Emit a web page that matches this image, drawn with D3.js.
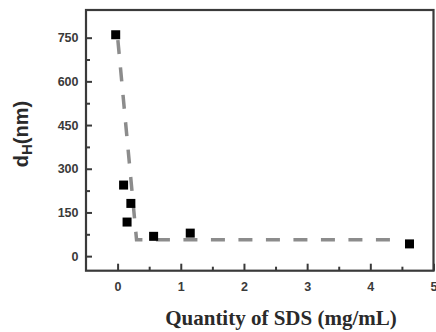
<!DOCTYPE html>
<html><head><meta charset="utf-8">
<script src="https://cdn.jsdelivr.net/npm/d3@7"></script>
<style>body{margin:0;background:#fff}svg{display:block}</style>
</head><body>
<svg id="c" width="436" height="332"></svg>
<script>
const sdsQuantity = [-0.03, 0.095, 0.21, 0.15, 0.57, 1.15, 4.62];
const diameter = [760, 244, 181, 117, 68, 79, 42];
const fitX = [0, 0.3, 4.5];
const fitY = [752, 56, 56];
const xTicks = [0, 1, 2, 3, 4, 5];
const yTicks = [0, 150, 300, 450, 600, 750];
const xMinor = [0.5, 1.5, 2.5, 3.5, 4.5];
const yMinor = [75, 225, 375, 525, 675];

const svg = d3.select("#c");
const L = 86, R = 433.5, T = 10, B = 270.7;
const x = d3.scaleLinear().domain([-0.5, 5]).range([L, R]);
const y = d3.scaleLinear().domain([-50, 845]).range([B, T]);
const axisColor = "#3a3a3a";
const labFont = "'Liberation Sans', Arial, sans-serif";

// frame
svg.append("rect").attr("x", L).attr("y", T).attr("width", R - L).attr("height", B - T)
  .attr("fill", "none").attr("stroke", axisColor).attr("stroke-width", 2.2);

// x axis
const xa = svg.append("g").attr("transform", `translate(0,${B})`)
  .call(d3.axisBottom(x).tickValues(xTicks).tickSize(-7).tickPadding(11).tickFormat(d3.format("d")));
xa.select(".domain").remove();
svg.append("g").attr("transform", `translate(0,${B})`)
  .call(d3.axisBottom(x).tickValues(xMinor).tickSize(-4).tickFormat(""))
  .select(".domain").remove();

// y axis
const ya = svg.append("g").attr("transform", `translate(${L},0)`)
  .call(d3.axisLeft(y).tickValues(yTicks).tickSize(-6).tickPadding(7.5).tickFormat(d3.format("d")));
ya.select(".domain").remove();
svg.append("g").attr("transform", `translate(${L},0)`)
  .call(d3.axisLeft(y).tickValues(yMinor).tickSize(-4).tickFormat(""))
  .select(".domain").remove();

svg.selectAll(".tick line").attr("stroke", axisColor).attr("stroke-width", 2);
svg.selectAll(".tick text").attr("fill", "#3a3a3a").style("font-family", labFont)
  .style("font-weight", "bold").style("font-size", "12.5px");

// fit dashed line
const fit = fitX.map((v, i) => [v, fitY[i]]);
svg.append("path").datum(fit)
  .attr("d", d3.line().x(d => x(d[0])).y(d => y(d[1])))
  .attr("fill", "none").attr("stroke", "#8c8c8c").attr("stroke-width", 3.5)
  .attr("stroke-dasharray", "14,13.5").attr("stroke-dashoffset", -3);

// points
const s = 9;
svg.selectAll("rect.pt").data(sdsQuantity).enter().append("rect").attr("class", "pt")
  .attr("x", (d) => x(d) - s / 2).attr("y", (d, i) => y(diameter[i]) - s / 2)
  .attr("width", s).attr("height", s).attr("fill", "#000");

// x label
svg.append("text").attr("x", 281).attr("y", 325).attr("text-anchor", "middle")
  .style("font-family", "'Liberation Serif', 'Times New Roman', serif")
  .style("font-weight", "bold").style("font-size", "21px").attr("fill", "#2a2a2a")
  .text("Quantity of SDS (mg/mL)");

// y label
const yl = svg.append("text").attr("transform", "translate(28,134) rotate(-90)")
  .attr("text-anchor", "middle")
  .style("font-family", labFont).style("font-weight", "bold").style("font-size", "20px")
  .attr("fill", "#2a2a2a");
yl.append("tspan").text("d");
yl.append("tspan").attr("dy", 4).style("font-size", "15px").text("H");
yl.append("tspan").attr("dy", -4).text("(nm)");
</script>
</body></html>
